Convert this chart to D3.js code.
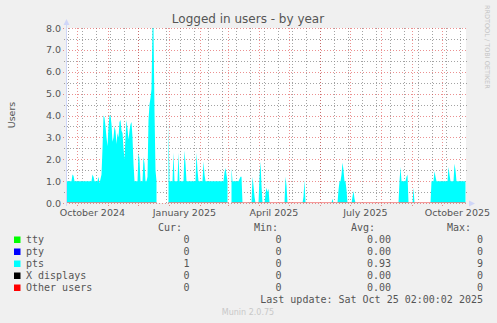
<!DOCTYPE html>
<html>
<head>
<meta charset="utf-8">
<script src="https://cdn.jsdelivr.net/npm/d3@7"></script>
<style>
  html, body { margin: 0; padding: 0; background: #f0f0f0; }
  svg { display: block; }
</style>
</head>
<body>
<div id="chart"></div>
<script>
// time window of the yearly graph (400 daily steps)
const startTime = new Date(Date.UTC(2024, 8, 20, 2, 0, 0));
const endTime = new Date(Date.UTC(2025, 9, 25, 2, 0, 0));

// pts, daily averages (null = no data)
const ptsValues = [
  1,1,1,1,1,1,1.3,1.25,1,1,1,1,1,1,1,1,1,1,1,1,
  1,1,1,1,1,1,1.3,1.2,1,1,1,1,1.2,0.9,1.1,1.3,2.5,4.0,3.9,3.5,
  3.0,2.6,3.5,4.0,4.0,3.6,2.8,3.0,3.5,3.3,2.7,3.2,3.0,3.7,3.8,3.3,3.2,2.5,2.0,3.0,
  3.8,3.4,2.9,3.3,3.6,3.7,3.0,1.8,1,1,1,1,2.3,2.0,1,1,1,2.1,1.8,1,
  1,1.2,3.8,4.5,4.8,5.2,8.0,8.0,4.2,1.5,1.0,null,null,null,null,null,null,null,null,null,
  null,null,3.7,1,1,1,1,2.3,1,1,1,1,2.3,1,1,1,1,1,2.4,1.8,
  1,1,1,1,1,1,1,1,1,1,2.3,1.5,1,1,1,1,1,1.9,1.3,1,
  1,1,1,1,1,1,1,1,1,1,1,1,1,1,1,1,1,1,1.4,1.6,
  1.3,1.0,null,null,null,1.6,1,1,1,1,1,1,1,1.1,1.2,1.2,0,0,0,0,
  0,0,0.05,0,0,0,1.2,0.8,0.3,0,0,0,0,1.2,1.9,0.8,0,0,0,0.4,
  0.7,0.5,0.65,0,0,0,0,0,0,0,0,0,0,0,0,0,0,0,0,1.2,
  0.8,0,0,0,0,0,0,0,0,0,0,0,0,0,0,0,0,0.3,1.05,0,
  0,0,0,0,0,0,0,0,0,0,0,0,0,0,0,0,0,0,0,0,
  0,0,0,0,0,0,0.2,0,0,0,0,0,0.6,1,1,1.3,1.85,1.5,1,1,
  0.6,0,0,0,0,0,0.3,0.55,0.2,0,0,0,0,0,0,0,0,0,0,0,
  0,0,0,0,0,0,0,0,0,0,0,0,0,0,0,0,0,0,0,0,
  0,0,0,0,0,0,0,0,0,0,0,0,0,1.0,1.65,1,1,1,1,1,
  1.2,1.3,0,0,0,0,0,0.7,0,0,0,0,0,0,0,0,0,0,0,0,
  0,0,0,0,0,1,1,1,1.45,1.2,1,1,1,1,1,1,1,1,1,1,
  1,1,1.65,1.3,1,1,1,1,1.8,1.5,1,1,1,1,1,1,1,1,1,1
];

const yTicks = [0, 1, 2, 3, 4, 5, 6, 7, 8];
const yMinorTicks = [0.5, 1.5, 2.5, 3.5, 4.5, 5.5, 6.5, 7.5];
const xLabelMonths = ['October 2024', 'January 2025', 'April 2025', 'July 2025', 'October 2025'];

// legend table
const seriesNames = ['tty', 'pty', 'pts', 'X displays', 'Other users'];
const seriesColors = ['#00ff00', '#0000ff', '#00ffff', '#000000', '#ff0000'];
const curValues = ['0', '0', '1', '0', '0'];
const minValues = ['0', '0', '0', '0', '0'];
const avgValues = ['0.00', '0.00', '0.93', '0.00', '0.00'];
const maxValues = ['0', '0', '9', '0', '0'];

const width = 497, height = 323;
const plot = {left: 66, right: 466, top: 28, bottom: 203};
const DAY = 86400000;

const data = ptsValues.map((v, i) => ({
  t: new Date(startTime.getTime() + (i + 0.5) * DAY),
  v: v
}));

const x = d3.scaleUtc().domain([startTime, endTime]).range([plot.left, plot.right]);
const y = d3.scaleLinear().domain([0, 8]).range([plot.bottom, plot.top]);

const svg = d3.select('#chart').append('svg')
  .attr('width', width)
  .attr('height', height)
  .style('font-family', 'DejaVu Sans, sans-serif');

svg.append('rect').attr('width', width).attr('height', height).attr('fill', '#f0f0f0');
svg.append('rect')
  .attr('x', plot.left).attr('y', plot.top)
  .attr('width', plot.right - plot.left).attr('height', plot.bottom - plot.top)
  .attr('fill', '#ffffff');

const grid = svg.append('g').attr('stroke-dasharray', '1,2').attr('stroke-width', 1);
const minorCol = 'rgba(140,140,140,0.8)';
const majorCol = 'rgba(222,70,70,0.6)';

// minor vertical grid: every other sunday
const sundays = d3.utcSunday.range(startTime, endTime).filter((d, i) => i % 2 === 0);
grid.selectAll('.vminor').data(sundays).enter().append('line')
  .attr('x1', d => Math.round(x(d)) + 0.5).attr('x2', d => Math.round(x(d)) + 0.5)
  .attr('y1', plot.top).attr('y2', plot.bottom + 2)
  .attr('stroke', minorCol);

const months = d3.utcMonth.range(startTime, endTime);
grid.selectAll('.vmajor').data(months).enter().append('line')
  .attr('x1', d => Math.round(x(d)) + 0.5).attr('x2', d => Math.round(x(d)) + 0.5)
  .attr('y1', plot.top).attr('y2', plot.bottom + 3)
  .attr('stroke', majorCol);

grid.selectAll('.hminor').data(yMinorTicks).enter().append('line')
  .attr('x1', plot.left - 2).attr('x2', plot.right + 2)
  .attr('y1', d => Math.round(y(d)) + 0.5).attr('y2', d => Math.round(y(d)) + 0.5)
  .attr('stroke', minorCol);

grid.selectAll('.hmajor').data(yTicks).enter().append('line')
  .attr('x1', plot.left - 3).attr('x2', plot.right + 2)
  .attr('y1', d => Math.round(y(d)) + 0.5).attr('y2', d => Math.round(y(d)) + 0.5)
  .attr('stroke', majorCol);

// pts area
const area = d3.area()
  .defined(d => d.v != null)
  .x(d => x(d.t))
  .y0(y(0))
  .y1(d => y(Math.min(d.v, 8)));

svg.append('path')
  .datum(data)
  .attr('d', area)
  .attr('fill', '#00ffff');

// other users line at zero
const line = d3.line()
  .defined(d => d.v != null)
  .x(d => x(d.t))
  .y(() => y(0) - 0.5);

svg.append('path')
  .datum(data)
  .attr('d', line)
  .attr('fill', 'none')
  .attr('stroke', '#f07878')
  .attr('stroke-width', 1);

// axes with arrows
const axisCol = '#cfd6f8';
svg.append('line')
  .attr('x1', plot.left + 0.5).attr('x2', plot.left + 0.5)
  .attr('y1', plot.bottom + 3).attr('y2', plot.top - 4)
  .attr('stroke', axisCol);
svg.append('path')
  .attr('d', `M${plot.left - 2.5},${plot.top - 3} L${plot.left + 0.5},${plot.top - 9} L${plot.left + 3.5},${plot.top - 3} Z`)
  .attr('fill', axisCol);
svg.append('path')
  .attr('d', `M${plot.right + 3},${plot.bottom - 2.5} L${plot.right + 9},${plot.bottom + 0.5} L${plot.right + 3},${plot.bottom + 3.5} Z`)
  .attr('fill', axisCol);

// y labels
svg.append('g').selectAll('text').data(yTicks).enter().append('text')
  .attr('x', plot.left - 5)
  .attr('y', d => y(d) + 3.5)
  .attr('text-anchor', 'end')
  .attr('font-size', '9.5px')
  .attr('fill', '#555')
  .text(d => d.toFixed(1));

// x labels, centered mid-month
const labelMonths = months.filter(d => d.getUTCMonth() % 3 === 0);
svg.append('g').selectAll('text').data(labelMonths).enter().append('text')
  .attr('x', d => (x(d) + x(d3.utcMonth.offset(d, 1))) / 2)
  .attr('y', 216)
  .attr('text-anchor', 'middle')
  .attr('font-size', '9.5px')
  .attr('fill', '#555')
  .text((d, i) => xLabelMonths[i]);

// title
svg.append('text')
  .attr('x', 248).attr('y', 23)
  .attr('text-anchor', 'middle')
  .attr('font-size', '12px')
  .attr('fill', '#555')
  .text('Logged in users - by year');

svg.append('text')
  .attr('transform', 'translate(15,115) rotate(-90)')
  .attr('text-anchor', 'middle')
  .attr('font-size', '9.5px')
  .attr('fill', '#555')
  .text('Users');

svg.append('text')
  .attr('transform', 'translate(485,5) rotate(90)')
  .attr('text-anchor', 'start')
  .attr('font-size', '6.5px')
  .attr('fill', '#c4c4c4')
  .text('RRDTOOL / TOBI OETIKER');

// legend
const legend = svg.append('g')
  .style('font-family', 'DejaVu Sans Mono, monospace')
  .attr('font-size', '10px')
  .attr('fill', '#555');

const heads = [['Cur:', 158], ['Min:', 254], ['Avg:', 351], ['Max:', 447]];
heads.forEach(h => {
  legend.append('text').attr('x', h[1]).attr('y', 231).text(h[0]);
});

const colsRight = [189.5, 281.5, 391, 483];
const cols = [curValues, minValues, avgValues, maxValues];
seriesNames.forEach((name, i) => {
  const by = 243 + i * 12;
  legend.append('rect')
    .attr('x', 14).attr('y', by - 6.5)
    .attr('width', 6.5).attr('height', 6.5)
    .attr('fill', seriesColors[i]);
  legend.append('text').attr('x', 26).attr('y', by).text(name);
  cols.forEach((c, j) => {
    legend.append('text')
      .attr('x', colsRight[j]).attr('y', by)
      .attr('text-anchor', 'end')
      .text(c[i]);
  });
});

legend.append('text')
  .attr('x', 483).attr('y', 303)
  .attr('text-anchor', 'end')
  .text('Last update: Sat Oct 25 02:00:02 2025');

svg.append('text')
  .attr('x', 248).attr('y', 315)
  .attr('text-anchor', 'middle')
  .attr('font-size', '8px')
  .attr('fill', '#c8c8c8')
  .text('Munin 2.0.75');
</script>
</body>
</html>
